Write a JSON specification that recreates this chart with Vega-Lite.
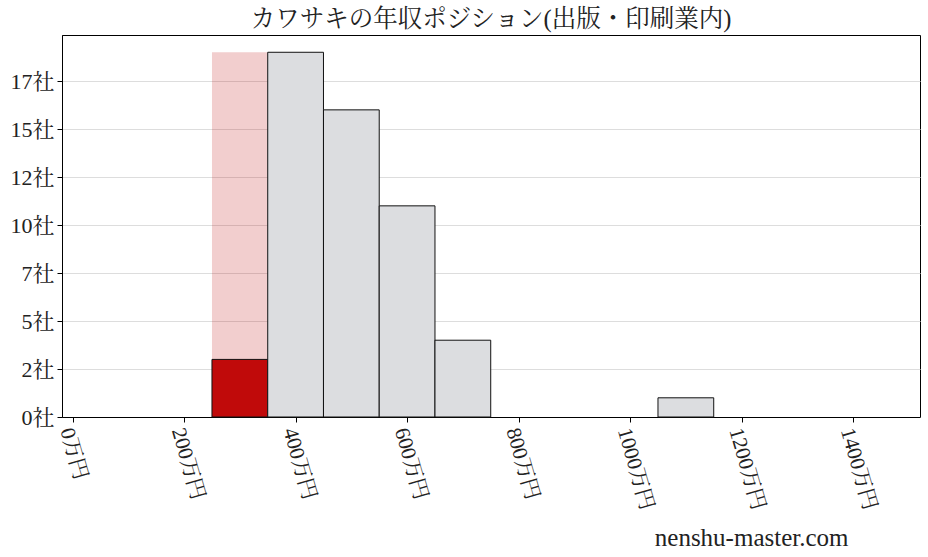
{
  "$schema": "https://vega.github.io/schema/vega-lite/v6.json",
  "autosize": "none",
  "padding": {"left": 62, "top": 35, "right": 8, "bottom": 140},
  "width": 858,
  "height": 382,
  "title": {
    "text": "カワサキの年収ポジション(出版・印刷業内)",
    "font": "Liberation Serif, Noto Serif CJK JP, Noto Sans CJK JP",
    "fontSize": 24.5,
    "fontWeight": "normal",
    "color": "#222",
    "offset": 3
  },
  "datasets": {
    "bins": [
      {"lo": 250, "hi": 350, "count": 3, "kind": "self"},
      {"lo": 350, "hi": 450, "count": 19, "kind": "other"},
      {"lo": 450, "hi": 550, "count": 16, "kind": "other"},
      {"lo": 550, "hi": 650, "count": 11, "kind": "other"},
      {"lo": 650, "hi": 750, "count": 4, "kind": "other"},
      {"lo": 1050, "hi": 1150, "count": 1, "kind": "other"}
    ],
    "band": [
      {"lo": 250, "hi": 350, "top": 19}
    ]
  },
  "layer": [
    {
      "data": {"name": "band"},
      "mark": {"type": "rect", "color": "#c00a0a", "opacity": 0.2},
      "encoding": {
        "x": {
          "field": "lo",
          "type": "quantitative",
          "scale": {"domain": [-19, 1520], "nice": false, "zero": false},
          "axis": {
            "values": [0, 200, 400, 600, 800, 1000, 1200, 1400],
            "labelExpr": "datum.value + '万円'",
            "labelAngle": 74,
            "labelAlign": "left",
            "labelBaseline": "middle",
            "labelOffset": -7,
            "labelFont": "Liberation Serif, Noto Serif CJK JP, Noto Sans CJK JP",
            "labelFontSize": 21,
            "labelColor": "#222",
            "labelPadding": 6,
            "grid": false,
            "tickColor": "#000",
            "tickSize": 5,
            "domainColor": "#000",
            "title": "nenshu-master.com",
            "titleFont": "Liberation Serif, Noto Serif CJK JP",
            "titleFontSize": 25,
            "titleFontWeight": "normal",
            "titleColor": "#222",
            "titleAnchor": "end",
            "titleAlign": "right",
            "titleBaseline": "middle",
            "titleX": 786,
            "titleY": 120
          }
        },
        "x2": {"field": "hi"},
        "y": {
          "field": "top",
          "type": "quantitative",
          "scale": {"domain": [0, 19.9], "nice": false},
          "axis": {
            "values": [0, 2.5, 5, 7.5, 10, 12.5, 15, 17.5],
            "labelExpr": "floor(datum.value) + '社'",
            "labelFont": "Liberation Serif, Noto Serif CJK JP, Noto Sans CJK JP",
            "labelFontSize": 22,
            "labelColor": "#222",
            "labelPadding": 3,
            "gridColor": "#dddddd",
            "tickColor": "#000",
            "tickSize": 5,
            "domainColor": "#000",
            "title": null
          }
        },
        "y2": {"datum": 0}
      }
    },
    {
      "data": {"name": "bins"},
      "mark": {"type": "rect", "stroke": "#111", "strokeWidth": 1},
      "encoding": {
        "x": {"field": "lo", "type": "quantitative"},
        "x2": {"field": "hi"},
        "y": {"field": "count", "type": "quantitative"},
        "y2": {"datum": 0},
        "color": {
          "field": "kind",
          "type": "nominal",
          "scale": {"domain": ["self", "other"], "range": ["#c00a0a", "#dcdde0"]},
          "legend": null
        }
      }
    }
  ],
  "config": {"view": {"stroke": "#000", "strokeWidth": 1}}
}
